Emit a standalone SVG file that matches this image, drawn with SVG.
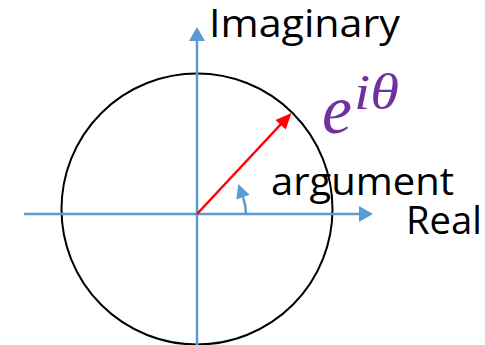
<svg xmlns="http://www.w3.org/2000/svg" width="485" height="345" viewBox="0 0 485 345">
  <style>
    .axis { stroke: #5B9BD5; stroke-width: 2.5; fill: none; }
    .head { fill: #5B9BD5; }
    .lbl { font-family: "Open Sans", "Liberation Sans", sans-serif; font-size: 39px; fill: #000; }
    .math { font-family: "Liberation Serif", serif; font-style: italic; fill: #7030A0; }
  </style>
  <rect width="485" height="345" fill="#fff"/>
  <g id="unit-circle">
    <circle cx="197" cy="209" r="135.5" fill="none" stroke="#000" stroke-width="2"/>
  </g>
  <g id="connectors">
    <line class="axis" x1="24" y1="214" x2="361" y2="214"/>
    <polygon class="head" points="373,214 359,206 359,222"/>
    <line class="axis" x1="197" y1="345" x2="197" y2="39"/>
    <polygon class="head" points="197,27 189,41 205,41"/>
    <line x1="197" y1="214" x2="282" y2="123" stroke="#FF0000" stroke-width="2.5"/>
    <polygon points="291.5,113 285.7,129.5 275.5,119.9" fill="#FF0000"/>
    <path class="axis" d="M246,214 A49,49 0 0 0 243,197.2"/>
    <polygon class="head" points="238.2,184 249.6,194.8 236.4,199.6"/>
  </g>
  <g id="label-imaginary">
    <text class="lbl" x="209" y="37" textLength="191" lengthAdjust="spacingAndGlyphs">Imaginary</text>
  </g>
  <g id="label-argument">
    <text class="lbl" x="271" y="195" textLength="183" lengthAdjust="spacingAndGlyphs">argument</text>
  </g>
  <g id="label-real">
    <text class="lbl" x="406" y="234" textLength="76" lengthAdjust="spacingAndGlyphs">Real</text>
  </g>
  <g id="label-eitheta">
    <text class="math" x="322" y="133" font-size="70" textLength="30" lengthAdjust="spacingAndGlyphs">e</text>
    <text class="math" x="354" y="109" font-size="50" textLength="45" lengthAdjust="spacingAndGlyphs">iθ</text>
  </g>
</svg>
